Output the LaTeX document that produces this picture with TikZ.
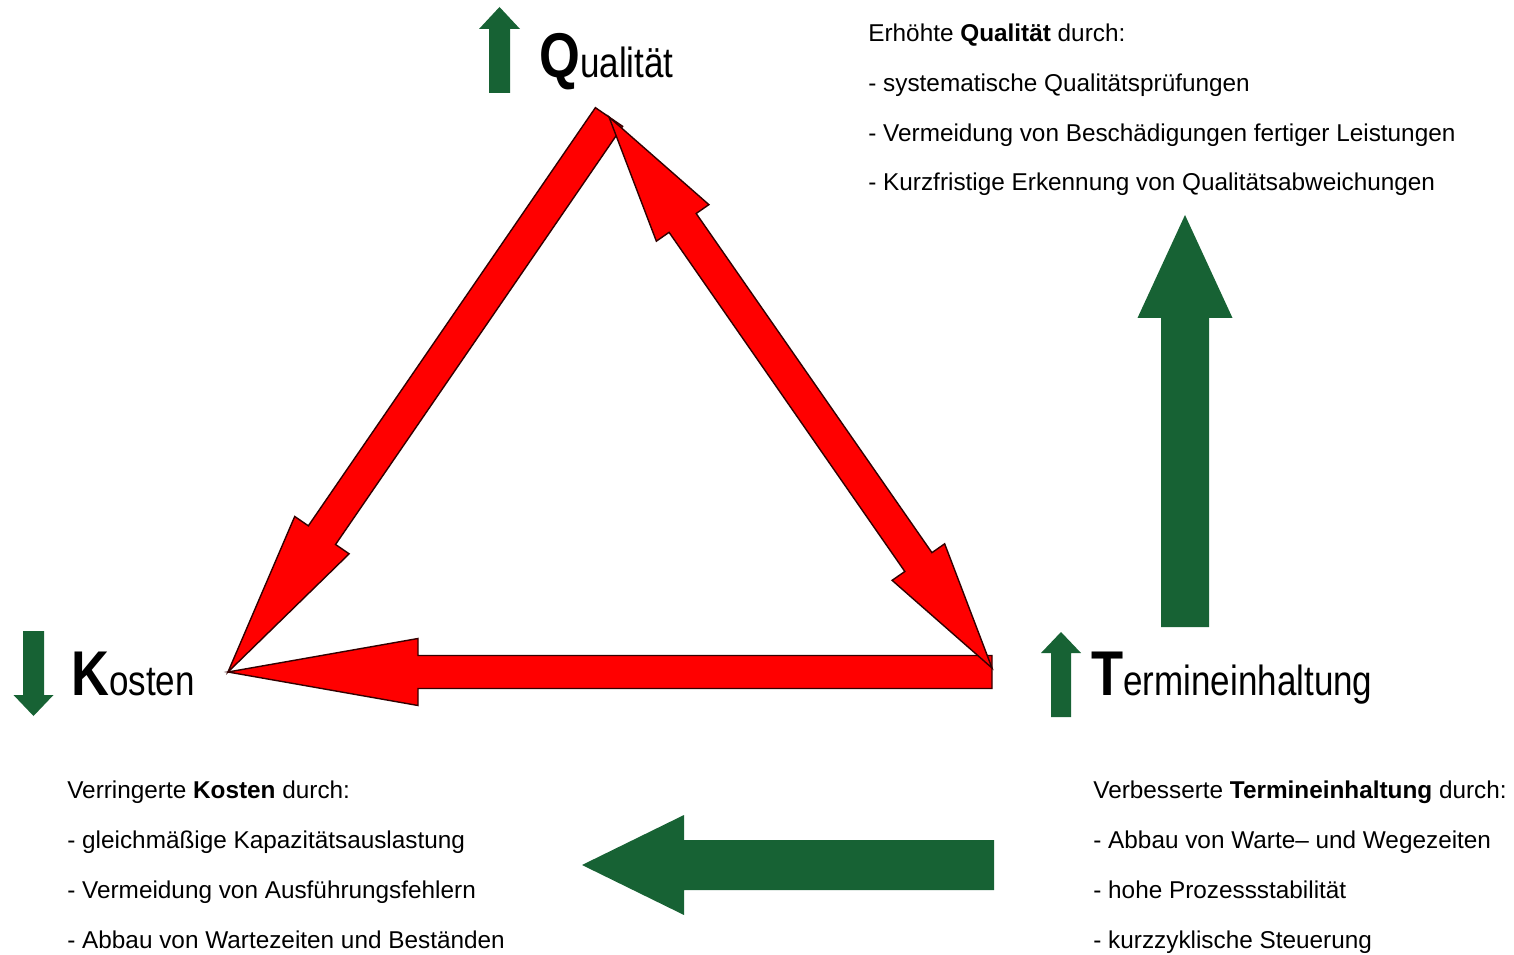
\documentclass[tikz,border=0pt]{standalone}
\usepackage{fontspec}
\setmainfont{Liberation Sans}
\usepackage{tikz}
\usetikzlibrary{calc}
\usetikzlibrary{positioning}

\definecolor{arrowred}{RGB}{255,0,0}
\definecolor{arrowgreen}{RGB}{23,98,52}

\tikzset{
    redarrow/.style={
           fill=arrowred,
           draw=black!80!red, line width=0.8pt,
           },
    greenarrow/.style={
           fill=arrowgreen,
           draw=none,
           },
    headword/.style={
           inner sep=0pt,
           anchor=base west,
           },
    listing/.style={
           inner sep=0pt,
           anchor=base west,
           align=left,
           font=\fontsize{13.85}{28.35}\selectfont,
           },
}

% block arrow #2 -> #3, half shaft #4, half head #5, head length #6 (px)
\newcommand{\blockarrow}[6]{%
    \coordinate (bahead) at ($(#3)!#6*0.02cm!(#2)$);
    \path[#1] ($(#2)!#4*0.02cm!90:(#3)$)
        -- ($(bahead)!#4*0.02cm!90:(#3)$)
        -- ($(bahead)!#5*0.02cm!90:(#3)$)
        -- (#3)
        -- ($(bahead)!#5*0.02cm!-90:(#3)$)
        -- ($(bahead)!#4*0.02cm!-90:(#3)$)
        -- ($(#2)!#4*0.02cm!-90:(#3)$)
        -- cycle;
}
% same with a head on both ends
\newcommand{\dblarrow}[6]{%
    \coordinate (dahead) at ($(#3)!#6*0.02cm!(#2)$);
    \coordinate (datail) at ($(#2)!#6*0.02cm!(#3)$);
    \path[#1] (#2)
        -- ($(datail)!#5*0.02cm!90:(#3)$)
        -- ($(datail)!#4*0.02cm!90:(#3)$)
        -- ($(dahead)!#4*0.02cm!90:(#3)$)
        -- ($(dahead)!#5*0.02cm!90:(#3)$)
        -- (#3)
        -- ($(dahead)!#5*0.02cm!-90:(#3)$)
        -- ($(dahead)!#4*0.02cm!-90:(#3)$)
        -- ($(datail)!#4*0.02cm!-90:(#3)$)
        -- ($(datail)!#5*0.02cm!-90:(#3)$)
        -- cycle;
}
\newcommand{\hw}[2]{\scalebox{0.83}[1]{{\fontsize{36}{36}\selectfont\bfseries #1}{\fontsize{24}{24}\selectfont #2}}}

\begin{document}
\begin{tikzpicture}[x=0.02cm,y=-0.02cm]

    \useasboundingbox (0,0) rectangle (1514,955);

    % corners of the triangle
    \coordinate (q) at (609,117);
    \coordinate (k) at (228,672);
    \coordinate (t) at (992,668);
    \coordinate (t0) at (t |- k);

    % headwords
    \node[headword] (Q) at (539,78) {\hw{Q}{ualität}};
    \node[headword] (K) at (71,695) {\hw{K}{osten}};
    \node[headword] (T) at (1091,695) {\hw{T}{ermineinhaltung}};

    % small up/down arrows next to the headwords
    \coordinate (qa0) at (499.5,93);   \coordinate (qa1) at (499.5,7);
    \coordinate (ka0) at (33.5,631);   \coordinate (ka1) at (33.5,716);
    \coordinate (ta0) at (1061,717);   \coordinate (ta1) at (1061,632);
    \blockarrow{greenarrow}{qa0}{qa1}{10.5}{20.5}{22}
    \blockarrow{greenarrow}{ka0}{ka1}{10.5}{20}{21}
    \blockarrow{greenarrow}{ta0}{ta1}{10}{20}{21}

    % big green arrows
    \coordinate (up0) at (1185,627);   \coordinate (up1) at (1185,215);
    \coordinate (lt0) at (994,865);    \coordinate (lt1) at (582,865);
    \blockarrow{greenarrow}{up0}{up1}{24}{47.5}{103}
    \blockarrow{greenarrow}{lt0}{lt1}{25}{50}{102}

    % red triangle
    \blockarrow{redarrow}{t0}{k}{16.5}{33.5}{190}
    \blockarrow{redarrow}{q}{k}{16.5}{33}{166}
    \dblarrow{redarrow}{q}{t}{16.5}{32}{129}

    % lists (base = last line)
    \node[listing] (qlist) at (868,191) {Erhöhte \textbf{Qualität} durch:\\
        - systematische Qualitätsprüfungen\\
        - Vermeidung von Beschädigungen fertiger Leistungen\\
        - Kurzfristige Erkennung von Qualitätsabweichungen};
    \node[listing] (klist) at (67,948) {Verringerte \textbf{Kosten} durch:\\
        - gleichmäßige Kapazitätsauslastung\\
        - Vermeidung von Ausführungsfehlern\\
        - Abbau von Wartezeiten und Beständen};
    \node[listing] (tlist) at (1093,948) {Verbesserte \textbf{Termineinhaltung} durch:\\
        - Abbau von Warte\textendash{} und Wegezeiten\\
        - hohe Prozessstabilität\\
        - kurzzyklische Steuerung};

\end{tikzpicture}
\end{document}
